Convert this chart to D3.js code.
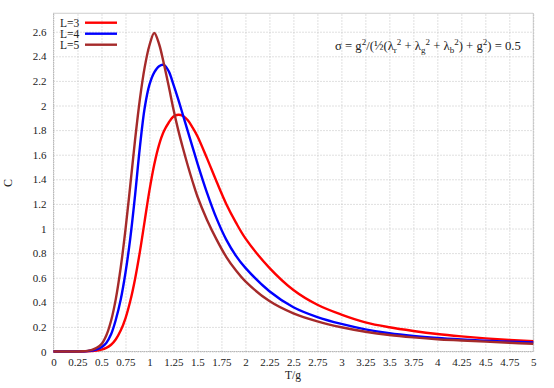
<!DOCTYPE html>
<html lang="en">
	<head>
		<meta charset="utf-8">
		<title>Specific heat C vs T/g</title>
		<script type="text/javascript" src="https://cdn.jsdelivr.net/npm/d3@7"></script>
		<style type="text/css">
			body {
				margin: 0;
				background: white;
			}
			svg text {
				font-family: "Liberation Serif", "DejaVu Serif", serif;
				fill: #222;
			}
			.grid line {
				stroke: #c0c0c0;
				stroke-dasharray: 1,2;
			}
			.grid path {
				display: none;
			}
			.labels path, .labels line {
				display: none;
			}
		</style>
	</head>
	<body>
		<script type="text/javascript">

			// temperature values (T/g)
			var temps = [0, 0.1, 0.2, 0.3, 0.35, 0.4, 0.45, 0.5, 0.55, 0.6, 0.65, 0.7, 0.75, 0.8, 0.85, 0.9, 0.95,
						 1.0, 1.05, 1.1, 1.15, 1.2, 1.25, 1.3, 1.35, 1.4, 1.45, 1.5, 1.6, 1.7, 1.8, 1.9, 2.0,
						 2.25, 2.5, 2.75, 3.0, 3.25, 3.5, 3.75, 4.0, 4.25, 4.5, 4.75, 5.0];

			// specific heat for each lattice size
			var cL3 = [0, 0, 0, 0, 0.001, 0.003, 0.008, 0.016, 0.03, 0.055, 0.10, 0.17, 0.27, 0.41, 0.59, 0.81, 1.06,
					   1.31, 1.52, 1.68, 1.79, 1.86, 1.91, 1.925, 1.915, 1.88, 1.82, 1.75, 1.57, 1.38, 1.20, 1.05, 0.92,
					   0.68, 0.50, 0.38, 0.30, 0.237, 0.197, 0.167, 0.142, 0.123, 0.107, 0.094, 0.083];
			var cL4 = [0, 0, 0, 0.001, 0.003, 0.008, 0.018, 0.035, 0.07, 0.14, 0.26, 0.42, 0.64, 0.92, 1.27, 1.66, 1.98,
					   2.17, 2.27, 2.32, 2.33, 2.28, 2.17, 2.05, 1.92, 1.79, 1.66, 1.53, 1.29, 1.08, 0.91, 0.78, 0.68,
					   0.49, 0.36, 0.28, 0.224, 0.18, 0.148, 0.126, 0.11, 0.098, 0.088, 0.080, 0.073];
			var cL5 = [0, 0, 0, 0.002, 0.005, 0.013, 0.03, 0.06, 0.13, 0.25, 0.43, 0.68, 0.99, 1.35, 1.72, 2.05, 2.31,
					   2.49, 2.59, 2.50, 2.34, 2.16, 1.97, 1.80, 1.65, 1.51, 1.38, 1.26, 1.07, 0.91, 0.77, 0.66, 0.57,
					   0.41, 0.31, 0.245, 0.197, 0.161, 0.134, 0.115, 0.100, 0.090, 0.080, 0.071, 0.063];

			var seriesNames = ["L=3", "L=4", "L=5"];
			var seriesColors = ["#ff0000", "#0000ff", "#a52a2a"];
			var seriesValues = [cL3, cL4, cL5];

			// tick values
			var xTicks = d3.range(0, 5.001, 0.25);
			var yTicks = d3.range(0, 2.61, 0.2);

			//Width and height
			var w = 554;
			var h = 388;
			var plotLeft = 53.5, plotRight = 533.3, plotTop = 13.25, plotBottom = 351.5;

			var xScale = d3.scaleLinear()
							.domain([0, 5])
							.range([plotLeft, plotRight]);

			var yScale = d3.scaleLinear()
							.domain([0, 2.75])
							.range([plotBottom, plotTop]);

			//Create SVG element
			var svg = d3.select("body")
						.append("svg")
						.attr("width", w)
						.attr("height", h);

			//Grid
			svg.append("g")
			   .attr("class", "grid")
			   .attr("transform", "translate(0," + plotBottom + ")")
			   .call(d3.axisBottom(xScale).tickValues(xTicks).tickSize(-(plotBottom - plotTop)).tickFormat(""));

			svg.append("g")
			   .attr("class", "grid")
			   .attr("transform", "translate(" + plotLeft + ",0)")
			   .call(d3.axisLeft(yScale).tickValues(yTicks).tickSize(-(plotRight - plotLeft)).tickFormat(""));

			//Border, dotted like the grid
			svg.append("rect")
			   .attr("x", plotLeft)
			   .attr("y", plotTop)
			   .attr("width", plotRight - plotLeft)
			   .attr("height", plotBottom - plotTop)
			   .attr("fill", "none")
			   .attr("stroke", "#9a9a9a")
			   .attr("stroke-dasharray", "1,1");

			//Tick labels
			svg.append("g")
			   .attr("class", "labels")
			   .attr("transform", "translate(0," + plotBottom + ")")
			   .call(d3.axisBottom(xScale).tickValues(xTicks).tickSize(0).tickPadding(7).tickFormat(d3.format("")))
			   .selectAll("text")
			   .attr("font-size", "11px");

			svg.append("g")
			   .attr("class", "labels")
			   .attr("transform", "translate(" + plotLeft + ",0)")
			   .call(d3.axisLeft(yScale).tickValues(yTicks).tickSize(0).tickPadding(7).tickFormat(d3.format("")))
			   .selectAll("text")
			   .attr("font-size", "11px");

			//Curves
			var line = d3.line()
						 .x(function(d, i) { return xScale(temps[i]); })
						 .y(function(d) { return yScale(d); })
						 .curve(d3.curveCatmullRom.alpha(0.5));

			svg.selectAll("path.curve")
			   .data(seriesValues)
			   .enter()
			   .append("path")
			   .attr("class", "curve")
			   .attr("d", line)
			   .attr("fill", "none")
			   .attr("stroke", function(d, i) { return seriesColors[i]; })
			   .attr("stroke-width", 2.4);

			//Legend
			var legend = svg.selectAll("g.legend")
							.data(seriesNames)
							.enter()
							.append("g")
							.attr("class", "legend")
							.attr("transform", function(d, i) { return "translate(0," + (22.7 + i * 11) + ")"; });

			legend.append("text")
				  .attr("x", 60)
				  .attr("y", 4)
				  .attr("font-size", "11.5px")
				  .text(function(d) { return d; });

			legend.append("line")
				  .attr("x1", 85)
				  .attr("x2", 117)
				  .attr("stroke", function(d, i) { return seriesColors[i]; })
				  .attr("stroke-width", 2.4);

			//Axis titles
			svg.append("text")
			   .attr("x", 293)
			   .attr("y", 379)
			   .attr("text-anchor", "middle")
			   .attr("font-size", "11.5px")
			   .text("T/g");

			svg.append("text")
			   .attr("transform", "translate(11.5,183) rotate(-90)")
			   .attr("text-anchor", "middle")
			   .attr("font-size", "12px")
			   .text("C");

			//Formula label
			var formula = svg.append("text")
							 .attr("x", 335)
							 .attr("y", 50)
							 .attr("font-size", "12.7px");

			var parts = [
				["σ = g", 0], ["2", -5], ["/(½(λ", 5], ["r", 3], ["2", -8], [" + λ", 5], ["g", 3], ["2", -8],
				[" + λ", 5], ["b", 3], ["2", -8], [") + g", 5], ["2", -5], [") = 0.5", 5]
			];
			parts.forEach(function(p) {
				formula.append("tspan")
					   .attr("dy", p[1])
					   .attr("font-size", (p[0].length == 1 && p[0] != "σ") ? "9px" : "12.7px")
					   .text(p[0]);
			});

		</script>
	</body>
</html>
